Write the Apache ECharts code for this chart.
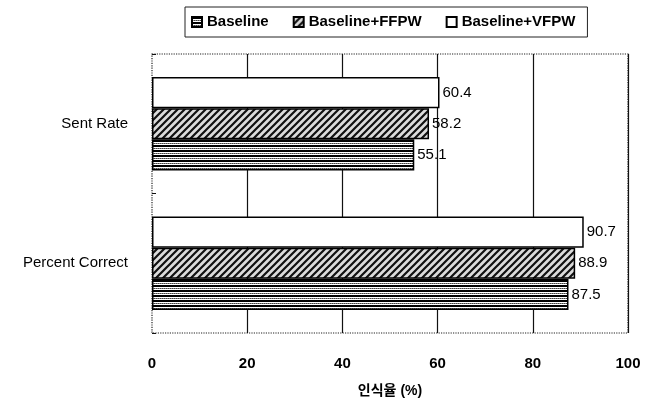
<!DOCTYPE html>
<html>
<head>
<meta charset="utf-8">
<script src="https://cdn.jsdelivr.net/npm/echarts@6/dist/echarts.min.js"></script>
<style>
html,body{margin:0;padding:0;background:#fff;}
#chart{width:651px;height:403px;}
</style>
</head>
<body>
<div id="chart"></div>
<script>
// ---- data ----
const categories = ['Percent Correct', 'Sent Rate'];
const seriesNames = ['Baseline', 'Baseline+FFPW', 'Baseline+VFPW'];
const baselineValues = [87.5, 55.1];
const ffpwValues = [88.9, 58.2];
const vfpwValues = [90.7, 60.4];
const xMin = 0, xMax = 100, xInterval = 20;
const xAxisTitle = '인식율 (%)';

// ---- fill patterns ----
function stripePattern() {
  const c = document.createElement('canvas');
  c.width = 4; c.height = 5;
  const g = c.getContext('2d');
  g.fillStyle = '#fff'; g.fillRect(0, 0, 4, 5);
  g.fillStyle = '#000'; g.fillRect(0, 0, 4, 2);
  g.fillStyle = '#444'; g.fillRect(0, 3, 1, 1); g.fillRect(2, 3, 1, 1);
  g.fillStyle = '#888'; g.fillRect(1, 3, 1, 1); g.fillRect(3, 3, 1, 1);
  return c;
}
function hatchPattern() {
  const s = 7;
  const c = document.createElement('canvas');
  c.width = s; c.height = s;
  const g = c.getContext('2d');
  g.fillStyle = '#dcdcdc'; g.fillRect(0, 0, s, s);
  g.strokeStyle = '#111'; g.lineWidth = 2.2;
  g.beginPath();
  g.moveTo(-1, s + 1); g.lineTo(s + 1, -1);
  g.moveTo(-1, 1); g.lineTo(1, -1);
  g.moveTo(s - 1, s + 1); g.lineTo(s + 1, s - 1);
  g.stroke();
  return c;
}
const fills = [
  { image: stripePattern(), repeat: 'repeat' },
  { image: hatchPattern(), repeat: 'repeat' },
  '#ffffff'
];
const valueSets = [baselineValues, ffpwValues, vfpwValues];

const font = 'Liberation Sans, Arial, Noto Sans CJK KR, sans-serif';

// series are added last-to-first so that Baseline sits lowest in each band
const order = [2, 1, 0];

const chart = echarts.init(document.getElementById('chart'), null, { renderer: 'canvas' });
chart.setOption({
  animation: false,
  backgroundColor: '#fff',
  textStyle: { fontFamily: font },
  legend: {
    left: 185, top: 7,
    padding: [6, 12, 6, 6],
    borderColor: '#222', borderWidth: 1,
    itemWidth: 10, itemHeight: 10, itemGap: 24,
    icon: 'rect',
    textStyle: { fontSize: 15, fontWeight: 'bold', color: '#000', fontFamily: font, lineHeight: 18 },
    data: seriesNames
  },
  grid: {
    left: 152, right: 23, top: 54, bottom: 70,
    show: true, borderColor: '#222', borderWidth: 1.2, borderType: 'dotted'
  },
  xAxis: {
    type: 'value', min: xMin, max: xMax, interval: xInterval,
    axisLine: { show: false }, axisTick: { show: false },
    splitLine: { show: true, showMinLine: false, lineStyle: { color: '#111', width: 1.2 } },
    axisLabel: { margin: 23, fontSize: 15, fontWeight: 'bold', color: '#000', fontFamily: font },
    name: xAxisTitle, nameLocation: 'middle', nameGap: 51,
    nameTextStyle: { fontSize: 14, fontWeight: 'bold', color: '#000', fontFamily: font }
  },
  yAxis: {
    type: 'category', data: categories,
    axisLine: { show: false },
    axisTick: { show: true, inside: true, length: 4, lineStyle: { color: '#111' } },
    axisLabel: { margin: 24, fontSize: 15, color: '#000', fontFamily: font }
  },
  series: order.map(i => ({
    name: seriesNames[i], type: 'bar', data: valueSets[i],
    barGap: '0%', barCategoryGap: '33%',
    itemStyle: { color: fills[i], borderColor: '#000', borderWidth: 1.5 },
    label: { show: true, position: 'right', distance: 3, fontSize: 15, color: '#000', fontFamily: font,
             formatter: p => p.value.toFixed(1) }
  }))
});
</script>
</body>
</html>
